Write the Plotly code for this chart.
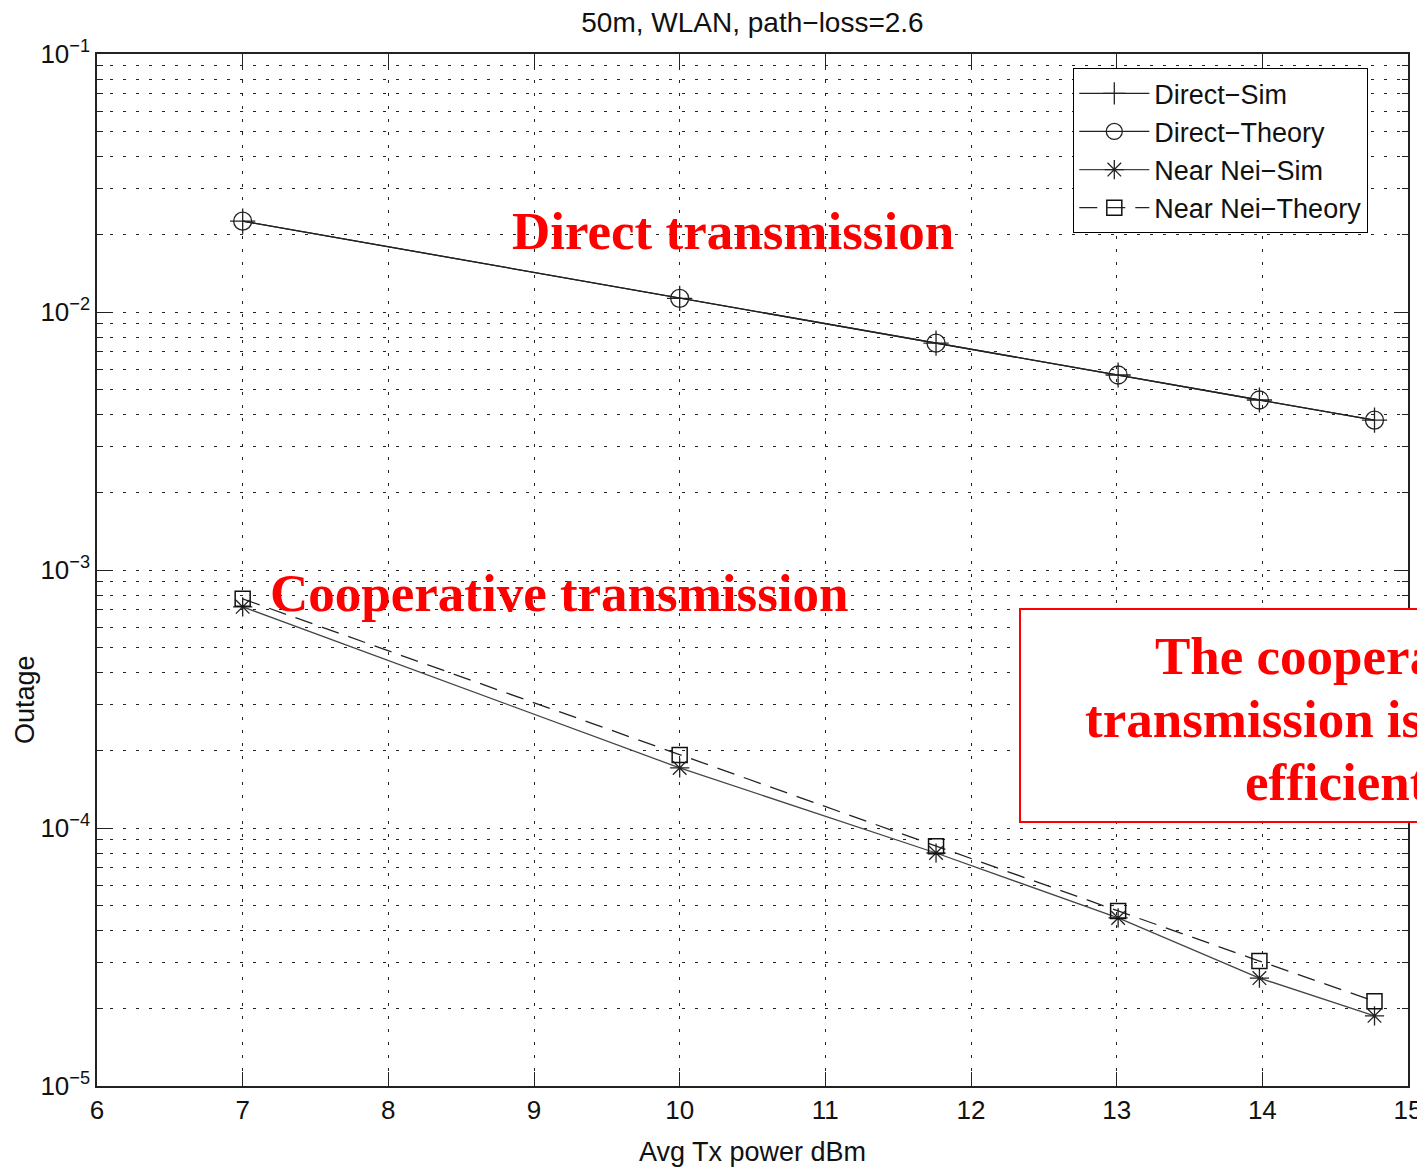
import plotly.graph_objects as go

# ---- data ----
tx_power_dbm = [7.0, 10.0, 11.76, 13.01, 13.98, 14.77]
direct_sim = [0.0225, 0.0113, 0.00758, 0.00570, 0.00456, 0.00381]
direct_theory = [0.0225, 0.0113, 0.00758, 0.00570, 0.00456, 0.00381]
near_nei_sim = [7.2e-4, 1.71e-4, 8.0e-5, 4.48e-5, 2.62e-5, 1.87e-5]
near_nei_theory = [7.73e-4, 1.92e-4, 8.5e-5, 4.77e-5, 3.05e-5, 2.13e-5]

major_y = [1e-5, 1e-4, 1e-3, 1e-2, 1e-1]
major_y_text = ["10<sup>−5</sup>", "10<sup>−4</sup>", "10<sup>−3</sup>", "10<sup>−2</sup>", "10<sup>−1</sup>"]
minor_y = [m * 10 ** e for e in range(-5, -1) for m in range(2, 10)]
x_ticks = [6, 7, 8, 9, 10, 11, 12, 13, 14, 15]

# ---- layout helpers (screenshot pixel -> paper) ----
W, H = 1425, 1168
OFF = 8  # page body margin
L, R, T, B = 97, 1408, 54, 1086  # plot area in screenshot pixels
def px(x):
    return (x - L) / (R - L)
def py(y):
    return (B - y) / (B - T)

SANS = "Liberation Sans, Arial, Helvetica, sans-serif"
SERIF = "Liberation Serif, Times New Roman, serif"

fig = go.Figure()
fig.add_trace(go.Scatter(x=tx_power_dbm, y=direct_sim, name="Direct−Sim", mode="lines+markers",
                         line=dict(color="#222", width=1.3),
                         marker=dict(symbol="cross-thin", size=18, line=dict(color="#222", width=1.3))))
fig.add_trace(go.Scatter(x=tx_power_dbm, y=direct_theory, name="Direct−Theory", mode="lines+markers",
                         line=dict(color="#222", width=1.3),
                         marker=dict(symbol="circle-open", size=18, color="#222", line=dict(width=1.3))))
fig.add_trace(go.Scatter(x=tx_power_dbm, y=near_nei_sim, name="Near Nei−Sim", mode="lines+markers",
                         line=dict(color="#444", width=1.3),
                         marker=dict(symbol="asterisk-open", size=16, color="#222", line=dict(width=1.3, color="#222"))))
fig.add_trace(go.Scatter(x=tx_power_dbm, y=near_nei_theory, name="Near Nei−Theory", mode="lines+markers",
                         line=dict(color="#222", width=1.3, dash="18px,10px"),
                         marker=dict(symbol="square-open", size=15, color="#111", line=dict(width=1.5))))

axis_common = dict(showline=True, linecolor="#222", linewidth=1.5, mirror="ticks",
                   ticks="inside", tickcolor="#222", ticklen=14, tickwidth=1.2,
                   showgrid=True, gridcolor="#222", gridwidth=1, griddash="3px,10px",
                   zeroline=False, tickfont=dict(family=SANS, size=26, color="#111"))

fig.update_layout(
    width=W, height=H,
    margin=dict(l=L - OFF, r=W - (R - OFF), t=T - OFF, b=H - (B - OFF)),
    paper_bgcolor="white", plot_bgcolor="white",
    title=dict(text="50m, WLAN, path−loss=2.6", x=((573 + 932) / 2 - OFF) / W, xanchor="center",
               y=1 - (22 - OFF) / H, yanchor="middle", font=dict(family=SANS, size=28, color="#111")),
    xaxis=dict(range=[6, 15], tickmode="array", tickvals=x_ticks,
               title=dict(text="Avg Tx power dBm", font=dict(family=SANS, size=27, color="#111"), standoff=18),
               **axis_common),
    yaxis=dict(type="log", range=[-5, -1], tickmode="array", tickvals=major_y, ticktext=major_y_text,
               minor=dict(tickmode="array", tickvals=minor_y, ticks="inside", ticklen=6, tickcolor="#222",
                          showgrid=True, gridcolor="#222", gridwidth=1, griddash="3px,10px"),
               **axis_common),
    legend=dict(x=px(1073), y=py(68), xanchor="left", yanchor="top",
                bgcolor="white", bordercolor="black", borderwidth=1.3,
                font=dict(family=SANS, size=27, color="#111"), tracegroupgap=0,
                itemwidth=70),
    showlegend=True,
)

# y-axis title as annotation (positioned as in the original)
fig.add_annotation(text="Outage", x=px(25), y=py(700), xref="paper", yref="paper",
                   xanchor="center", yanchor="middle", textangle=-90, showarrow=False,
                   font=dict(family=SANS, size=27, color="#111"))

red = "#ff0000"
fig.add_annotation(text="<b>Direct transmission</b>", x=px(510), y=py(231), xref="paper", yref="paper",
                   xanchor="left", yanchor="middle", showarrow=False,
                   font=dict(family=SERIF, size=53, color=red))
fig.add_annotation(text="<b>Cooperative transmission</b>", x=px(268), y=py(593), xref="paper", yref="paper",
                   xanchor="left", yanchor="middle", showarrow=False,
                   font=dict(family=SERIF, size=53, color=red))

fig.add_shape(type="rect", xref="paper", yref="paper", x0=px(1020), x1=px(1660), y0=py(822), y1=py(609),
              line=dict(color=red, width=2), fillcolor="white", layer="above")

for txt, x0, yc in [("The cooperative", 1153, 656), ("transmission is more", 1083, 719), ("efficient", 1243, 782)]:
    fig.add_annotation(text="<b>" + txt + "</b>", x=px(x0), y=py(yc), xref="paper", yref="paper",
                       xanchor="left", yanchor="middle", showarrow=False,
                       font=dict(family=SERIF, size=53, color=red))

fig.write_html("out.html")
